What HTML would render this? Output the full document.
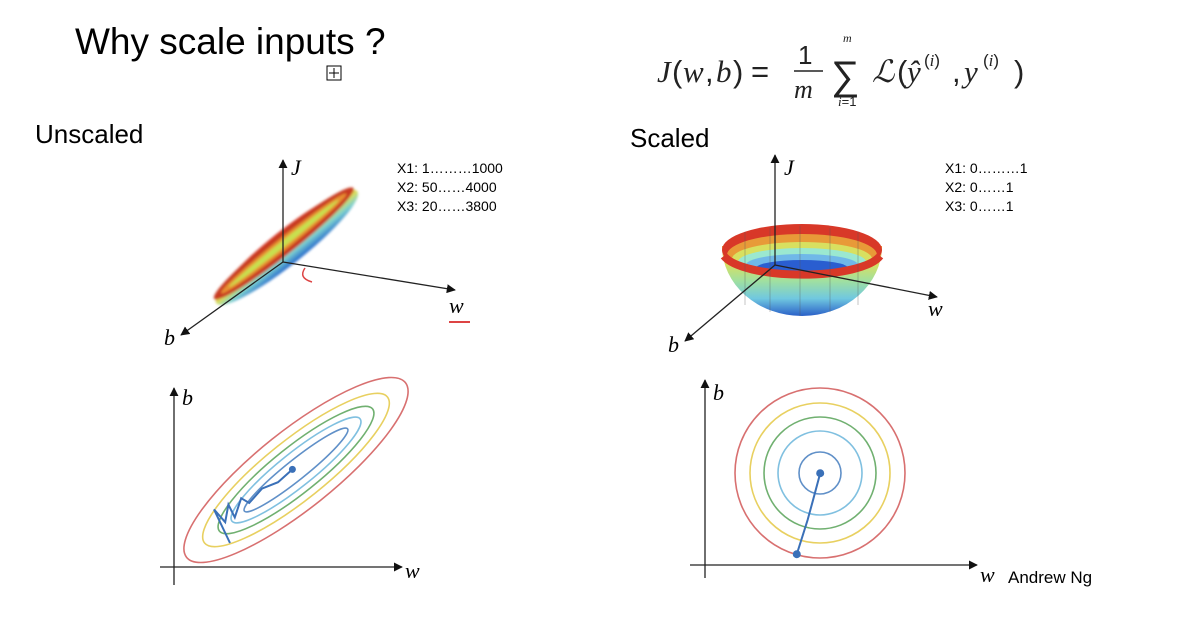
<!DOCTYPE html>
<html><head><meta charset="utf-8"><style>
body{margin:0;background:#fff;width:1194px;height:640px;overflow:hidden}
svg{display:block}
text{font-family:"Liberation Sans",sans-serif}
.ser{font-family:"Liberation Serif",serif;font-style:italic}
</style></head><body>
<svg id="s" width="1194" height="640" viewBox="0 0 1194 640">
<defs>
<marker id="ar" viewBox="0 0 10 10" refX="9" refY="5" markerWidth="7" markerHeight="7" orient="auto"><path d="M0,0L10,5L0,10z" fill="#111"/></marker>
<linearGradient id="g1" x1="0" y1="0" x2="0" y2="1"><stop offset="0" stop-color="#d33"/><stop offset=".3" stop-color="#e8a030"/><stop offset=".5" stop-color="#d8e060"/><stop offset=".72" stop-color="#7cd0d0"/><stop offset="1" stop-color="#2266cc"/></linearGradient>
<linearGradient id="g2" x1="0" y1="0" x2="0" y2="1"><stop offset="0" stop-color="#e89030"/><stop offset=".25" stop-color="#d8e060"/><stop offset=".5" stop-color="#a0e0a0"/><stop offset=".75" stop-color="#70c8e0"/><stop offset="1" stop-color="#2a60c8"/></linearGradient>
<filter id="bl"><feGaussianBlur stdDeviation="1.2"/></filter>
</defs>
<text x="75" y="54" font-size="37">Why scale inputs ?</text>
<g><rect x="327" y="66" width="14" height="14" fill="#fff" stroke="#000"/><path d="M329,73H339M334,68V78" stroke="#000"/></g>
<g font-family="Liberation Serif,serif" font-size="31" fill="#222">
<text x="657" y="82" class="ser">J</text><text x="672" y="82">(</text><text x="683" y="82" class="ser">w</text><text x="705" y="82">,</text><text x="716" y="82" class="ser">b</text><text x="733" y="82">)</text><text x="751" y="82">=</text>
<text x="798" y="64" font-size="26">1</text><line x1="794" y1="71" x2="823" y2="71" stroke="#222" stroke-width="1.5"/><text x="794" y="98" font-size="26" class="ser">m</text>
<text x="843" y="42" font-size="12" class="ser">m</text><text x="831" y="89" font-size="40">∑</text><text x="838" y="106" font-size="13"><tspan class="ser">i</tspan>=1</text>
<text x="872" y="82" class="ser">ℒ</text><text x="897" y="82">(</text><text x="907" y="82" class="ser">ŷ</text><text x="924" y="66" font-size="17">(<tspan class="ser">i</tspan>)</text><text x="952" y="82">,</text><text x="964" y="82" class="ser">y</text><text x="983" y="66" font-size="17">(<tspan class="ser">i</tspan>)</text><text x="1014" y="82">)</text>
</g>
<text x="35" y="143" font-size="26">Unscaled</text>
<text x="630" y="147" font-size="26">Scaled</text>
<g font-size="14"><text x="397" y="173">X1: 1………1000</text><text x="397" y="192">X2: 50……4000</text><text x="397" y="211">X3: 20……3800</text></g>
<g font-size="14"><text x="945" y="173">X1: 0………1</text><text x="945" y="192">X2: 0……1</text><text x="945" y="211">X3: 0……1</text></g>
<!-- left 3D -->
<g>
<g transform="translate(285,245) rotate(-38.5)" filter="url(#bl)">
<ellipse cx="0" cy="3" rx="90" ry="17" fill="url(#g1)"/>
<ellipse cx="0" cy="-2" rx="89" ry="11" fill="#c83a20"/>
<ellipse cx="0" cy="-2" rx="80" ry="6" fill="#e89030"/>
<ellipse cx="0" cy="-2" rx="70" ry="3" fill="#c8e050"/>
</g>
<line x1="283" y1="262" x2="283" y2="160" stroke="#222" stroke-width="1.3" marker-end="url(#ar)"/>
<line x1="283" y1="262" x2="455" y2="290" stroke="#222" stroke-width="1.3" marker-end="url(#ar)"/>
<line x1="283" y1="262" x2="181" y2="335" stroke="#222" stroke-width="1.3" marker-end="url(#ar)"/>
<path d="M305,268 Q298,278 312,282" fill="none" stroke="#d44" stroke-width="1.5"/>
<text x="291" y="175" class="ser" font-size="22">J</text>
<text x="449" y="313" class="ser" font-size="22">w</text><line x1="449" y1="322" x2="470" y2="322" stroke="#d44" stroke-width="2"/>
<text x="164" y="345" class="ser" font-size="22">b</text>
</g>
<!-- right 3D -->
<g>
<path d="M722,246 A80,70 0 0 0 882,246 Z" fill="url(#g2)"/>
<ellipse cx="802" cy="250" rx="80" ry="26" fill="#d83828"/>
<ellipse cx="802" cy="255" rx="75" ry="21" fill="#e89a38"/>
<ellipse cx="802" cy="259" rx="70" ry="17" fill="#d8e060"/>
<ellipse cx="802" cy="262" rx="64" ry="14" fill="#9be8d0"/>
<ellipse cx="802" cy="265" rx="56" ry="11" fill="#70b8e8"/>
<ellipse cx="802" cy="268" rx="46" ry="8" fill="#2a5ed0"/>
<path d="M724,256 A80,24 0 0 0 880,256" fill="none" stroke="#d83828" stroke-width="8"/>
<g stroke="#555" stroke-opacity=".35" stroke-width="1"><path d="M745,232V305M770,228V312M800,226V316M830,228V312M858,232V305"/></g>
<line x1="775" y1="265" x2="775" y2="155" stroke="#222" stroke-width="1.3" marker-end="url(#ar)"/>
<line x1="775" y1="265" x2="937" y2="297" stroke="#222" stroke-width="1.3" marker-end="url(#ar)"/>
<line x1="775" y1="265" x2="685" y2="341" stroke="#222" stroke-width="1.3" marker-end="url(#ar)"/>
<text x="784" y="175" class="ser" font-size="22">J</text>
<text x="928" y="316" class="ser" font-size="22">w</text>
<text x="668" y="352" class="ser" font-size="22">b</text>
</g>
<g id="lc"></g>
<g id="rc"></g>
<text x="1008" y="583" font-size="17">Andrew Ng</text>
</svg>
<script>
const contourColors=["#d87070","#e8d060","#70b070","#80c0e0","#6090c8"];
const leftSemiMajor=[140,117,98,82,66];
const leftSemiMinor=[39,30,23,17,10];
const rightRadii=[85,70,56,42,21];
const leftPath=[[3.5,1.5],[2.5,3.6],[3.2,2.8],[3.4,3.9],[3.8,3.1],[4.2,4.3],[4.7,4.0],[5.5,4.9],[6.5,5.3],[7.4,6.1]];
const rightPath=[[5.1,0.6],[5.7,2.5],[6.0,3.6],[6.4,5.1]];
const NS='http://www.w3.org/2000/svg';
function mk(p,t,a){const e=document.createElementNS(NS,t);for(const k in a)e.setAttribute(k,a[k]);p.appendChild(e);return e;}
function plot(g,ox,oy,x0,x1,y0,y1){
 const xa=mk(g,'line',{x1:x0,y1:oy,x2:x1,y2:oy,stroke:'#222','stroke-width':1.3,'marker-end':'url(#ar)'});
 
 
 const ya=mk(g,'line',{x1:ox,y1:y0,x2:ox,y2:y1,stroke:'#222','stroke-width':1.3,'marker-end':'url(#ar)'});
 
 
}
// left
const lc=document.getElementById('lc');
plot(lc,174,567,160,402,585,388);
const lx=v=>174+v*16, ly=v=>567-v*16;
leftSemiMajor.forEach((a,i)=>{
 const e=mk(lc,'ellipse',{cx:296,cy:470,rx:a,ry:leftSemiMinor[i],transform:'rotate(-38.6 296 470)',fill:'none',stroke:contourColors[i],'stroke-width':1.6});
 
 
});
const lp=mk(lc,'polyline',{points:leftPath.map(p=>lx(p[0])+','+ly(p[1])).join(' '),fill:'none',stroke:'#3a70b8','stroke-width':2});


const lend=leftPath[leftPath.length-1];
const ld=mk(lc,'circle',{cx:lx(lend[0]),cy:ly(lend[1]),r:3.5,fill:'#3a70b8'});


mk(lc,'text',{x:182,y:405,'font-size':22,class:'ser'}).textContent='b';
mk(lc,'text',{x:405,y:578,'font-size':22,class:'ser'}).textContent='w';
// right
const rc=document.getElementById('rc');
plot(rc,705,565,690,977,578,380);
rightRadii.forEach((r,i)=>{
 const c=mk(rc,'circle',{cx:820,cy:473,r:r,fill:'none',stroke:contourColors[i],'stroke-width':1.6});
 
 
});
const rx=v=>705+v*18, ry=v=>565-v*18;
const rp=mk(rc,'polyline',{points:rightPath.map(p=>rx(p[0])+','+ry(p[1])).join(' '),fill:'none',stroke:'#3a70b8','stroke-width':2});


const rd=mk(rc,'circle',{cx:rx(rightPath[0][0]),cy:ry(rightPath[0][1]),r:4,fill:'#3a70b8'});


const re=mk(rc,'circle',{cx:rx(rightPath[3][0]),cy:ry(rightPath[3][1]),r:4,fill:'#3a70b8'});


mk(rc,'text',{x:713,y:400,'font-size':22,class:'ser'}).textContent='b';
mk(rc,'text',{x:980,y:582,'font-size':22,class:'ser'}).textContent='w';
</script>
</body></html>
